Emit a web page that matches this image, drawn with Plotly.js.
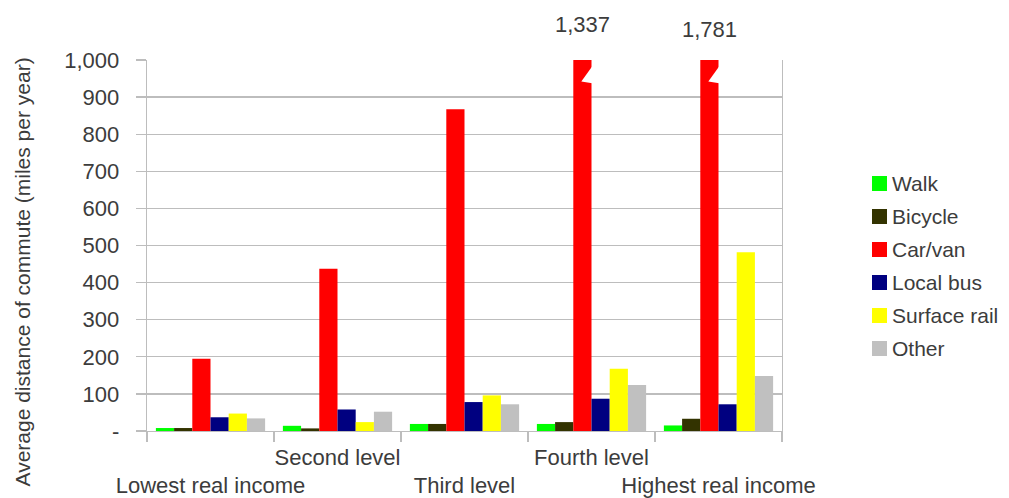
<!DOCTYPE html>
<html>
<head>
<meta charset="utf-8">
<script src="https://cdn.plot.ly/plotly-3.0.1.min.js"></script>
<style>html,body{margin:0;padding:0;background:#fff;}#chart{width:1009px;height:498px;}</style>
</head>
<body>
<div id="chart"></div>
<script>
const categories = ["Lowest real income", "Second level", "Third level", "Fourth level", "Highest real income"];
const seriesNames = ["Walk", "Bicycle", "Car/van", "Local bus", "Surface rail", "Other"];
const walk = [8, 14, 19, 19, 15];
const bicycle = [8, 7, 19, 24, 33];
const carVan = [195, 437, 867, 1337, 1781];
const localBus = [37, 58, 78, 87, 72];
const surfaceRail = [47, 24, 96, 168, 482];
const other = [34, 52, 72, 124, 148];
const seriesColors = ["#00ff00", "#333300", "#ff0000", "#000080", "#ffff00", "#c0c0c0"];
const yTickVals = [0, 100, 200, 300, 400, 500, 600, 700, 800, 900, 1000];
const yTickText = ["-", "100", "200", "300", "400", "500", "600", "700", "800", "900", "1,000"];
const yMax = 1000;

const allSeries = [walk, bicycle, carVan, localBus, surfaceRail, other];
const font = "Liberation Sans, Arial, sans-serif";
const textColor = "#3c3c3c";
const gray = "#bdbdbd";

// figure geometry (px)
const W = 1009, H = 498;
const M = { l: 147, r: 227, t: 60, b: 67 };
const plotW = W - M.l - M.r, plotH = H - M.t - M.b;
const px2x = px => (px - M.l) / plotW;
const px2y = py => (H - M.b - py) / plotH;

// staggered category labels
const tickText = categories.map((c, i) => (i % 2 === 0 ? "<br>" + c : c));

const traces = allSeries.map((vals, k) => ({
  type: "bar",
  name: seriesNames[k],
  x: categories,
  y: vals,
  marker: { color: seriesColors[k], line: { width: 0 } },
  showlegend: false,
  hoverinfo: "skip"
}));

// break marks and value labels for bars beyond the axis
const bargap = 0.14;
const nSeries = allSeries.length;
const barW = (1 - bargap) / nSeries;
const carIdx = 2;
const shapes = [];
const annotations = [];
carVan.forEach((v, i) => {
  if (v > yMax) {
    const left = i - (1 - bargap) / 2 + barW * carIdx;
    const right = left + barW;
    shapes.push({
      type: "path", xref: "x", yref: "y", layer: "above",
      path: `M ${right + 0.006} 983 L ${right - barW * 0.56} 942 L ${right + 0.006} 937 Z`,
      fillcolor: "#ffffff", line: { width: 0 }
    });
    annotations.push({
      x: categories[i], xref: "x", y: yMax, yref: "y",
      xshift: -barW * 0.5 * (plotW / categories.length), yshift: i === 3 ? 21 : 16,
      yanchor: "bottom", showarrow: false,
      text: v.toLocaleString("en-US"),
      font: { family: font, size: 22, color: textColor }
    });
  }
});

// legend (swatch + label per series)
const legendTop = 183.5, legendStep = 33, swL = 872, swSize = 15, legTextX = 890;
seriesNames.forEach((name, k) => {
  const cy = legendTop + legendStep * k;
  shapes.push({
    type: "rect", xref: "paper", yref: "paper",
    x0: px2x(swL), x1: px2x(swL + swSize),
    y0: px2y(cy + swSize / 2), y1: px2y(cy - swSize / 2),
    fillcolor: seriesColors[k], line: { width: 0 }
  });
  annotations.push({
    text: name, xref: "paper", yref: "paper",
    x: px2x(legTextX), y: px2y(cy), xanchor: "left", yanchor: "middle",
    showarrow: false, font: { family: font, size: 21, color: textColor }
  });
});

annotations.push({
  text: "Average distance of commute (miles per year)",
  xref: "paper", yref: "paper", x: px2x(22), y: px2y(272.5),
  xanchor: "center", yanchor: "middle", textangle: -90, showarrow: false,
  font: { family: font, size: 21, color: textColor }
});

const layout = {
  width: W, height: H,
  margin: { l: M.l, r: M.r, t: M.t, b: M.b, pad: 0 },
  paper_bgcolor: "#ffffff", plot_bgcolor: "#ffffff",
  barmode: "group", bargap: bargap, bargroupgap: 0,
  font: { family: font, color: textColor },
  showlegend: false,
  xaxis: {
    type: "category", tickmode: "array", tickvals: categories, ticktext: tickText,
    tickson: "boundaries", ticks: "outside", ticklen: 10, tickcolor: gray, tickwidth: 1.3,
    showline: true, linecolor: gray, linewidth: 1.3, showgrid: false,
    tickfont: { family: font, size: 22, color: textColor }, tickangle: 0,
    ticklabelstandoff: 6, automargin: false
  },
  yaxis: {
    range: [0, yMax], tickmode: "array", tickvals: yTickVals, ticktext: yTickText,
    ticks: "outside", ticklen: 10, tickcolor: gray, tickwidth: 1.3,
    showline: true, mirror: true, linecolor: gray, linewidth: 1.3,
    showgrid: true, gridcolor: gray, gridwidth: 1.3, zeroline: false,
    tickfont: { family: font, size: 22, color: textColor }, ticklabelstandoff: 12,
    automargin: false, fixedrange: true
  },
  shapes: shapes,
  annotations: annotations
};

Plotly.newPlot("chart", traces, layout, { displayModeBar: false, staticPlot: true });
</script>
</body>
</html>
